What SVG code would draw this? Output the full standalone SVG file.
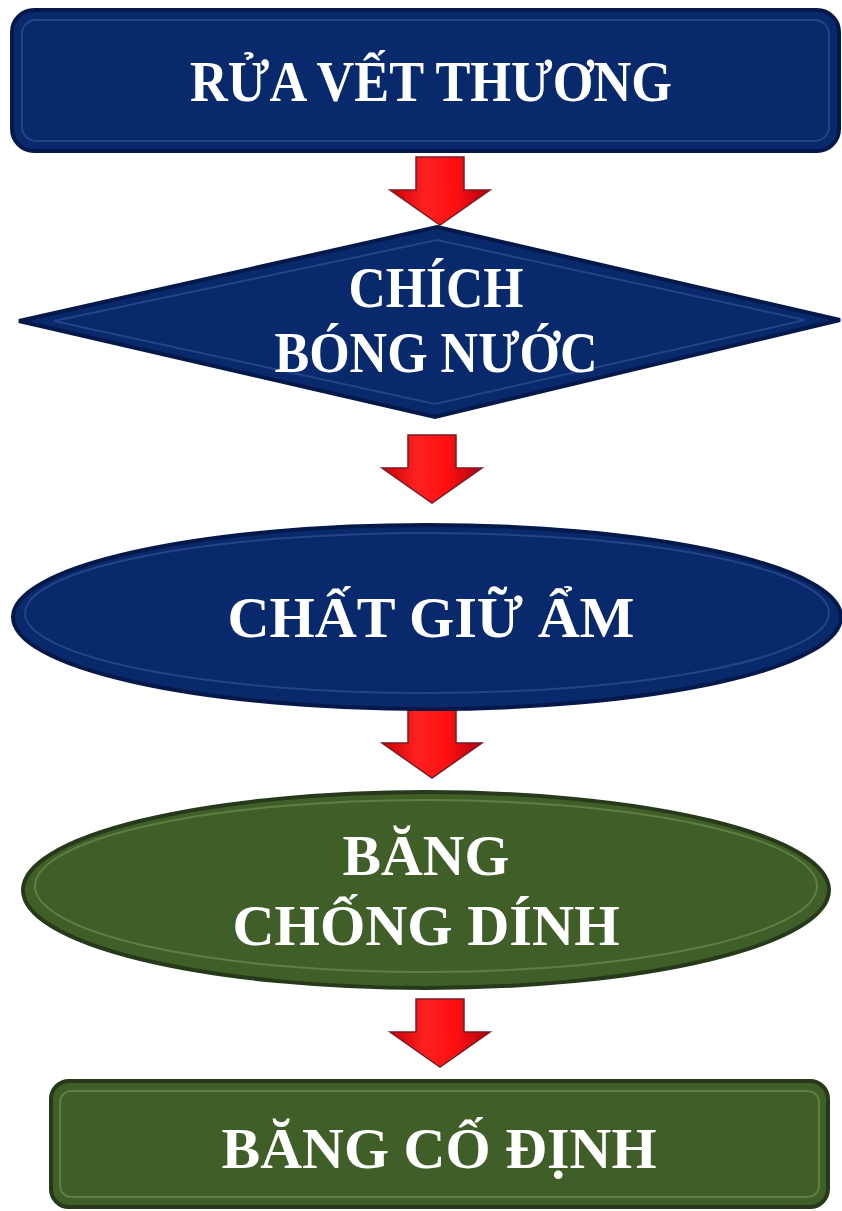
<svg xmlns="http://www.w3.org/2000/svg" width="842" height="1211" viewBox="0 0 842 1211">
  <style>
    .lbl { font-family: "Liberation Serif", "Times New Roman", serif; font-weight: bold; font-size: 58px; fill: #ffffff; text-anchor: middle; }
    .navy { fill: #08296b; stroke: #04194a; stroke-width: 4; }
    .navyHi { fill: none; stroke: #3f5fa6; stroke-width: 2; stroke-opacity: 0.5; }
    .green { fill: #405f28; stroke: #26391a; stroke-width: 4; }
    .greenHi { fill: none; stroke: #7f9c5e; stroke-width: 2; stroke-opacity: 0.5; }
    .arrow { fill: url(#redGrad); stroke: #7a1a24; stroke-width: 1.5; stroke-linejoin: miter; }
  </style>
  <defs>
    <linearGradient id="redGrad" x1="0" y1="0" x2="1" y2="0">
      <stop offset="0" stop-color="#c80008"/>
      <stop offset="0.35" stop-color="#ff2020"/>
      <stop offset="0.65" stop-color="#ff1010"/>
      <stop offset="1" stop-color="#b00010"/>
    </linearGradient>
    <path id="arrowShape" d="M-24,0 H24 V33 H50 L0,68 L-50,33 H-24 Z"/>
  </defs>

  <g id="connectors">
    <use href="#arrowShape" class="arrow" transform="translate(440,157)"/>
    <use href="#arrowShape" class="arrow" transform="translate(432,435)"/>
    <use href="#arrowShape" class="arrow" transform="translate(432,710)"/>
    <use href="#arrowShape" class="arrow" transform="translate(440,999)"/>
  </g>

  <g id="node-rua">
    <rect class="navy" x="12" y="10" width="827" height="141" rx="22"/>
    <rect class="navyHi" x="22" y="20" width="807" height="121" rx="14"/>
    <text class="lbl" x="431" y="101" textLength="482" lengthAdjust="spacingAndGlyphs">RỬA VẾT THƯƠNG</text>
  </g>

  <g id="node-chich">
    <polygon class="navy" points="437,227 840,320 435,417 19,321"/>
    <polygon class="navyHi" points="437,240 805,320 435,404 54,321"/>
    <text class="lbl" x="436" y="307" textLength="175" lengthAdjust="spacingAndGlyphs">CHÍCH</text>
    <text class="lbl" x="436" y="372" textLength="323" lengthAdjust="spacingAndGlyphs">BÓNG NƯỚC</text>
  </g>

  <g id="node-chat">
    <ellipse class="navy" cx="427" cy="617" rx="414" ry="92"/>
    <ellipse class="navyHi" cx="427" cy="613" rx="402" ry="80"/>
    <text class="lbl" x="431" y="637" textLength="407" lengthAdjust="spacingAndGlyphs">CHẤT GIỮ ẨM</text>
  </g>

  <g id="node-bang-chong">
    <ellipse class="green" cx="426" cy="890" rx="403" ry="98"/>
    <ellipse class="greenHi" cx="426" cy="886" rx="391" ry="86"/>
    <text class="lbl" x="426" y="875" textLength="167" lengthAdjust="spacingAndGlyphs">BĂNG</text>
    <text class="lbl" x="426" y="945" textLength="387" lengthAdjust="spacingAndGlyphs">CHỐNG DÍNH</text>
  </g>

  <g id="node-bang-co">
    <rect class="green" x="51" y="1081" width="777" height="126" rx="18"/>
    <rect class="greenHi" x="60" y="1091" width="759" height="106" rx="11"/>
    <text class="lbl" x="439" y="1168" textLength="435" lengthAdjust="spacingAndGlyphs">BĂNG CỐ ĐỊNH</text>
  </g>
</svg>
